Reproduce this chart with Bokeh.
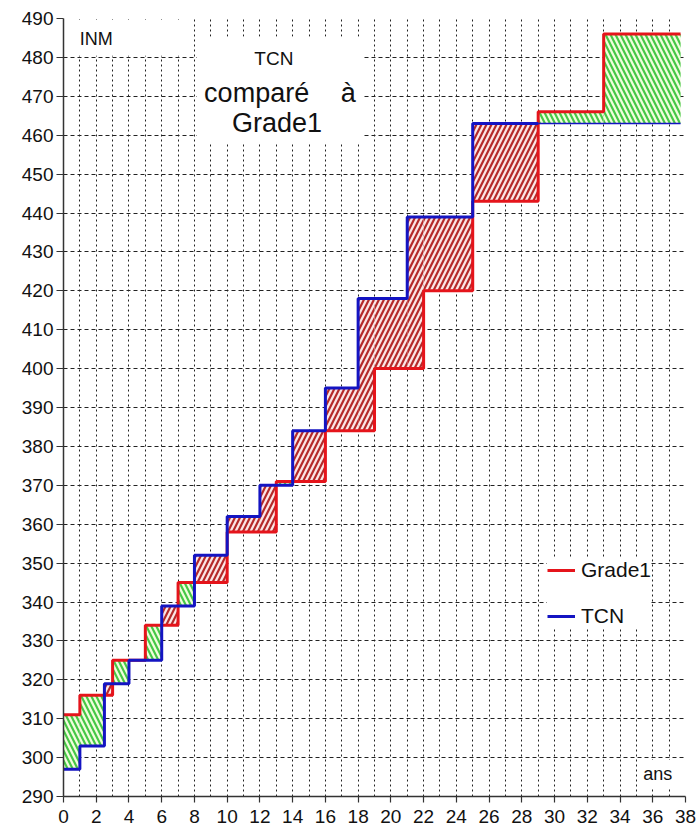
from bokeh.plotting import figure
from bokeh.models import (Range1d, FixedTicker, Legend, LegendItem, BoxAnnotation,
                          Label, ColumnDataSource)
from bokeh.embed import file_html
from bokeh.resources import INLINE

# ---- data ----
grade1_x = [0, 1, 3, 5, 7, 10, 13, 16, 19, 22, 25, 29, 33, 37.7]
grade1_y = [311, 316, 325, 334, 345, 358, 371, 384, 400, 420, 443, 466, 486, 486]
tcn_x = [0, 1, 2.5, 4, 6, 8, 10, 12, 14, 16, 18, 21, 25, 37.7]
tcn_y = [297, 303, 319, 325, 339, 352, 362, 370, 384, 395, 418, 439, 463, 463]
x_ticks = list(range(0, 39, 2))
y_ticks = list(range(290, 491, 10))
x_grid = list(range(0, 39))

FONT = "Liberation Sans"
RED = "#e5141b"
BLUE = "#1414c2"


def step_value(xs, ys, x):
    v = ys[0]
    for xi, yi in zip(xs, ys):
        if xi <= x:
            v = yi
    return v


breaks = sorted(set(grade1_x) | set(tcn_x))
green = dict(left=[], right=[], bottom=[], top=[])
red = dict(left=[], right=[], bottom=[], top=[])
for a, b in zip(breaks[:-1], breaks[1:]):
    g = step_value(grade1_x, grade1_y, a)
    t = step_value(tcn_x, tcn_y, a)
    if g > t:
        d = green
    elif t > g:
        d = red
    else:
        continue
    d["left"].append(a)
    d["right"].append(b)
    d["bottom"].append(min(g, t))
    d["top"].append(max(g, t))

p = figure(frame_width=622, frame_height=778, output_backend="svg",
           toolbar_location=None,
           x_range=Range1d(0, 38), y_range=Range1d(290, 490),
           min_border_left=63, min_border_right=13, min_border_top=18,
           min_border_bottom=34)
p.outline_line_color = None
p.background_fill_color = "white"

# axes
p.xaxis.ticker = FixedTicker(ticks=x_ticks)
p.yaxis.ticker = FixedTicker(ticks=y_ticks)
for ax in (p.xaxis[0], p.yaxis[0]):
    ax.axis_line_color = "#333333"
    ax.axis_line_width = 1.5
    ax.major_tick_line_color = "#333333"
    ax.major_tick_line_width = 1.2
    ax.major_tick_out = 7
    ax.major_tick_in = 0
    ax.minor_tick_line_color = None
    ax.major_label_text_font = FONT
    ax.major_label_text_font_size = "19px"
    ax.major_label_text_color = "#111111"
p.xaxis.major_tick_out = 6
p.yaxis.major_label_standoff = 3
p.xaxis.major_label_standoff = 7

# grids
p.xgrid.ticker = FixedTicker(ticks=x_grid)
p.xgrid.grid_line_color = "#222222"
p.xgrid.grid_line_dash = "2 3"
p.xgrid.grid_line_width = 1
p.ygrid.ticker = FixedTicker(ticks=y_ticks)
p.ygrid.grid_line_color = "#222222"
p.ygrid.grid_line_dash = "4 3"
p.ygrid.grid_line_width = 1

# hatched areas between the two curves
p.quad(source=ColumnDataSource(green), left="left", right="right", bottom="bottom",
       top="top", fill_color="#f1fcdc", line_color=None, hatch_pattern="\\",
       hatch_color="#46c846", hatch_weight=2.2, hatch_scale=10)
p.quad(source=ColumnDataSource(red), left="left", right="right", bottom="bottom",
       top="top", fill_color="#fbe6e6", line_color=None, hatch_pattern="/",
       hatch_color="#b52a2a", hatch_weight=2.2, hatch_scale=10)

r_red = p.step(grade1_x, grade1_y, mode="after", line_color=RED, line_width=3)

# TCN: thick up to the last Grade1 step before the plateau, thin afterwards
split_x = grade1_x[11]
thick_x = [x for x in tcn_x if x < split_x] + [split_x]
thick_y = [step_value(tcn_x, tcn_y, x) for x in thick_x]
r_blue = p.step(thick_x, thick_y, mode="after", line_color=BLUE, line_width=3)
p.line([split_x, tcn_x[-1]], [tcn_y[-1], tcn_y[-1]], line_color=BLUE, line_width=1.6)

# white boxes behind texts
for l, r, b, t in [(0.1, 7.9, 480.4, 489.6), (8.15, 18.3, 458, 485.3),
                   (35.3, 37.5, 292.2, 299.4)]:
    p.add_layout(BoxAnnotation(left=l, right=r, bottom=b, top=t, fill_color="white",
                               fill_alpha=1, line_color=None))

texts = [("INM", 1.0, 484.8, "left", "18px"),
         ("TCN", 12.85, 479.7, "center", "19px"),
         ("comparé", 11.8, 470.8, "center", "27px"),
         ("à", 17.4, 470.8, "center", "27px"),
         ("Grade1", 13.05, 463.1, "center", "27px"),
         ("ans", 36.3, 295.9, "center", "18px")]
for s, x, y, al, fs in texts:
    p.add_layout(Label(x=x, y=y, text=s, text_align=al, text_baseline="middle",
                       text_font=FONT, text_font_size=fs, text_color="#111111"))

legend = Legend(items=[LegendItem(label="Grade1", renderers=[r_red]),
                       LegendItem(label="TCN", renderers=[r_blue])],
                location=(484, 168))
legend.label_text_font = FONT
legend.label_text_font_size = "21px"
legend.label_text_color = "#111111"
legend.glyph_width = 28
legend.glyph_height = 20
legend.spacing = 22
legend.padding = 10
legend.margin = 0
legend.label_standoff = 6
legend.border_line_color = None
legend.background_fill_color = "white"
legend.background_fill_alpha = 1
p.add_layout(legend)

open("out.html", "w").write(file_html(p, INLINE))
